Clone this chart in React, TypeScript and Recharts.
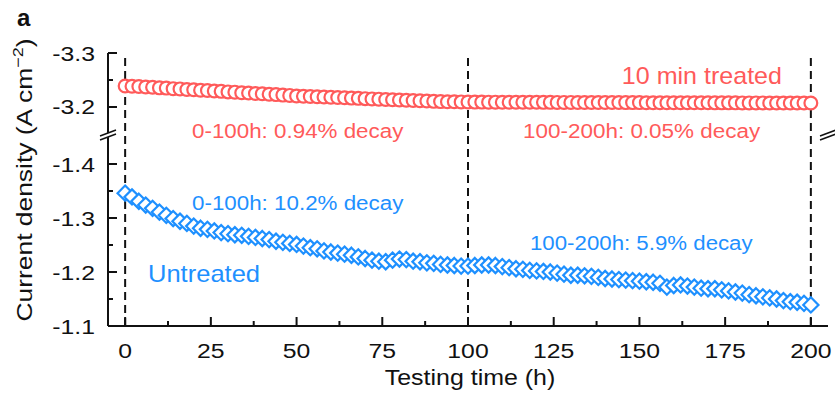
import React from "react";
import { ScatterChart, Scatter, XAxis, YAxis, ReferenceLine } from "recharts";

// testing time (h)
const TIME = [
  0, 2, 4, 6, 8, 10, 12, 14, 16, 18, 20, 22, 24, 26, 28, 30, 32, 34, 36, 38, 40, 42, 44, 46, 48, 50,
  52, 54, 56, 58, 60, 62, 64, 66, 68, 70, 72, 74, 76, 78, 80, 82, 84, 86, 88, 90, 92, 94, 96, 98, 100,
  102, 104, 106, 108, 110, 112, 114, 116, 118, 120, 122, 124, 126, 128, 130, 132, 134, 136, 138, 140,
  142, 144, 146, 148, 150, 152, 154, 156, 158, 160, 162, 164, 166, 168, 170, 172, 174, 176, 178, 180,
  182, 184, 186, 188, 190, 192, 194, 196, 198, 200,
];

// current density (A cm-2), 10 min treated
const TREATED = [
  -3.239, -3.2385, -3.238, -3.237, -3.2365, -3.2355, -3.235, -3.234, -3.2335, -3.2325, -3.232, -3.231,
  -3.2305, -3.2295, -3.229, -3.228, -3.2275, -3.2265, -3.226, -3.225, -3.2245, -3.2235, -3.223, -3.222,
  -3.2215, -3.2205, -3.22, -3.2195, -3.219, -3.2185, -3.218, -3.2175, -3.217, -3.2165, -3.216, -3.2155,
  -3.215, -3.2145, -3.214, -3.2135, -3.213, -3.2125, -3.212, -3.2115, -3.211, -3.2105, -3.21, -3.2098,
  -3.2096, -3.2094, -3.2092, -3.2091, -3.2091, -3.209, -3.209, -3.2089, -3.2089, -3.2088, -3.2088,
  -3.2087, -3.2087, -3.2086, -3.2086, -3.2085, -3.2085, -3.2085, -3.2084, -3.2084, -3.2083, -3.2083,
  -3.2083, -3.2082, -3.2082, -3.2081, -3.2081, -3.2081, -3.208, -3.208, -3.208, -3.2079, -3.2079,
  -3.2079, -3.2078, -3.2078, -3.2078, -3.2078, -3.2077, -3.2077, -3.2077, -3.2077, -3.2076, -3.2076,
  -3.2076, -3.2076, -3.2075, -3.2075, -3.2075, -3.2075, -3.2075, -3.2074, -3.2074,
];

// current density (A cm-2), untreated
const UNTREATED = [
  -1.346, -1.339, -1.331, -1.324, -1.318, -1.311, -1.305, -1.299, -1.294, -1.29, -1.285, -1.281, -1.279,
  -1.276, -1.273, -1.271, -1.269, -1.268, -1.266, -1.264, -1.262, -1.26, -1.257, -1.255, -1.253, -1.251,
  -1.248, -1.245, -1.243, -1.239, -1.237, -1.235, -1.233, -1.231, -1.228, -1.225, -1.222, -1.22, -1.219,
  -1.222, -1.224, -1.223, -1.22, -1.219, -1.217, -1.216, -1.214, -1.213, -1.212, -1.211, -1.211, -1.212,
  -1.213, -1.213, -1.212, -1.21, -1.208, -1.206, -1.205, -1.203, -1.202, -1.201, -1.2, -1.198, -1.196,
  -1.194, -1.194, -1.193, -1.192, -1.19, -1.188, -1.187, -1.186, -1.185, -1.184, -1.183, -1.182, -1.181,
  -1.179, -1.172, -1.175, -1.176, -1.174, -1.172, -1.17, -1.169, -1.169, -1.167, -1.165, -1.163, -1.161,
  -1.158, -1.156, -1.154, -1.152, -1.15, -1.147, -1.145, -1.144, -1.142, -1.139,
];

const X_MAJOR = [0, 25, 50, 75, 100, 125, 150, 175, 200];
const X_MINOR = [12.5, 37.5, 62.5, 87.5, 112.5, 137.5, 162.5, 187.5];
const Y_LOWER_MAJOR = [-1.1, -1.2, -1.3, -1.4];
const Y_LOWER_MINOR = [-1.15, -1.25, -1.35];
const Y_UPPER_MAJOR = [-3.2, -3.3];
const Y_UPPER_MINOR = [-3.25];
const DIVIDERS = [0, 100, 200];

const RED = "#FF5A5A";
const BLUE = "#1E90FF";
const INK = "#111";
const FONT = "'Liberation Sans', Arial, Helvetica, sans-serif";

// broken axis: both segments share one scale, upper segment shifted down
const LOWER_ZERO = -1.1;
const UPPER_ZERO = -2.7944;
const lowerPos = (v: number) => LOWER_ZERO - v;
const upperPos = (v: number) => UPPER_ZERO - v;
const Y_TOP = upperPos(-3.3);
const BREAK_POS = 0.3537;

const yTicks = [
  ...Y_LOWER_MAJOR.map((v) => ({ pos: lowerPos(v), label: v.toFixed(1) })),
  ...Y_LOWER_MINOR.map((v) => ({ pos: lowerPos(v), label: "" })),
  ...Y_UPPER_MAJOR.map((v) => ({ pos: upperPos(v), label: v.toFixed(1) })),
  ...Y_UPPER_MINOR.map((v) => ({ pos: upperPos(v), label: "" })),
];

const treatedData = TIME.map((t, i) => ({ t, pos: upperPos(TREATED[i]) }));
const untreatedData = TIME.map((t, i) => ({ t, pos: lowerPos(UNTREATED[i]) }));

function Txt({ x, y, children, size = 22, sx = 1.1, anchor = "start", fill = INK, weight = "normal", rotate = 0 }: any) {
  return (
    <text
      transform={`translate(${x},${y}) rotate(${rotate}) scale(${sx},1)`}
      textAnchor={anchor}
      fontSize={size}
      fontFamily={FONT}
      fill={fill}
      fontWeight={weight}
    >
      {children}
    </text>
  );
}

function XTick({ x, y, payload }: any) {
  const major = X_MAJOR.includes(payload.value);
  return (
    <g>
      <line x1={x} x2={x} y1={y} y2={y - (major ? 9 : 5)} stroke={INK} strokeWidth={2} />
      {major && (
        <Txt x={x} y={y + 32} size={21} sx={1.18} anchor="middle">
          {payload.value}
        </Txt>
      )}
    </g>
  );
}

function YTick({ x, y, payload }: any) {
  const t = yTicks.find((k) => Math.abs(k.pos - payload.value) < 1e-6);
  const major = !!(t && t.label);
  return (
    <g>
      <line x1={x} x2={x + (major ? 9 : 5)} y1={y} y2={y} stroke={INK} strokeWidth={2} />
      {major && (
        <Txt x={x - 13} y={y + 7.5} size={21} sx={1.18} anchor="end">
          {t!.label}
        </Txt>
      )}
    </g>
  );
}

const Ring = (p: any) => <circle cx={p.cx} cy={p.cy} r={6.4} fill="#fff" stroke={RED} strokeWidth={2.2} />;

const Diamond = (p: any) => {
  const s = 7.6;
  return (
    <polygon
      points={`${p.cx},${p.cy - s} ${p.cx + s},${p.cy} ${p.cx},${p.cy + s} ${p.cx - s},${p.cy}`}
      fill="#fff"
      stroke={BLUE}
      strokeWidth={2.2}
    />
  );
};

// "//" mark where the axis is broken
const BreakMark = (p: any) => {
  const { cx, cy } = p;
  return (
    <g>
      <polygon points={`${cx - 5},${cy - 0.5} ${cx + 5},${cy - 4} ${cx + 5},${cy + 0.5} ${cx - 5},${cy + 4}`} fill="#fff" />
      <line x1={cx - 8} y1={cy + 1} x2={cx + 8} y2={cy - 5} stroke={INK} strokeWidth={1.6} />
      <line x1={cx - 8} y1={cy + 5} x2={cx + 8} y2={cy - 1} stroke={INK} strokeWidth={1.6} />
    </g>
  );
};

export default function App() {
  return (
    <div style={{ position: "absolute", left: 0, top: 0, width: 835, height: 393, background: "#fff" }}>
      <ScatterChart width={835} height={393} margin={{ top: 53, right: 7, bottom: 7, left: 8 }}>
        <XAxis
          xAxisId="b"
          dataKey="t"
          type="number"
          domain={[-5, 205]}
          ticks={[...X_MAJOR, ...X_MINOR]}
          interval={0}
          tickSize={0}
          tickMargin={0}
          height={60}
          tick={<XTick />}
          tickLine={false}
          axisLine={{ stroke: INK, strokeWidth: 2 }}
          allowDataOverflow
        />
        <XAxis
          xAxisId="top"
          orientation="top"
          type="number"
          domain={[-5, 205]}
          height={0}
          tick={false}
          tickLine={false}
          axisLine={{ stroke: INK, strokeWidth: 2 }}
        />
        <YAxis
          yAxisId="l"
          dataKey="pos"
          type="number"
          domain={[0, Y_TOP]}
          ticks={yTicks.map((k) => k.pos)}
          interval={0}
          tickSize={0}
          tickMargin={0}
          width={100}
          tick={<YTick />}
          tickLine={false}
          axisLine={{ stroke: INK, strokeWidth: 2 }}
          allowDataOverflow
        />
        <YAxis
          yAxisId="r"
          orientation="right"
          type="number"
          domain={[0, Y_TOP]}
          width={0}
          tick={false}
          tickLine={false}
          axisLine={{ stroke: INK, strokeWidth: 2 }}
        />
        {DIVIDERS.map((d) => (
          <ReferenceLine key={d} xAxisId="b" yAxisId="l" x={d} stroke={INK} strokeWidth={2} strokeDasharray="8 5" />
        ))}
        <Scatter xAxisId="b" yAxisId="l" data={untreatedData} dataKey="pos" shape={Diamond} isAnimationActive={false} />
        <Scatter xAxisId="b" yAxisId="l" data={treatedData} dataKey="pos" shape={Ring} isAnimationActive={false} />
      </ScatterChart>
      <svg width={835} height={393} style={{ position: "absolute", left: 0, top: 0, pointerEvents: "none" }}>
        <BreakMark cx={108} cy={326 - BREAK_POS * 540} />
        <BreakMark cx={828} cy={326 - BREAK_POS * 540} />
        <Txt x={17} y={26} size={24} sx={1} weight="bold">a</Txt>
        <Txt x={32} y={180} size={22} sx={1.2} anchor="middle" rotate={-90}>
          Current density (A cm
          <tspan fontSize={15} dy={-9}>−2</tspan>
          <tspan dy={9}>)</tspan>
        </Txt>
        <Txt x={470} y={385} size={22.5} sx={1.11} anchor="middle">Testing time (h)</Txt>
        <Txt x={782} y={84} size={23} sx={1.09} anchor="end" fill={RED}>10 min treated</Txt>
        <Txt x={192} y={138} size={21} sx={1.065} fill={RED}>0-100h: 0.94% decay</Txt>
        <Txt x={523} y={138} size={21} sx={1.07} fill={RED}>100-200h: 0.05% decay</Txt>
        <Txt x={192} y={210} size={21} sx={1.065} fill={BLUE}>0-100h: 10.2% decay</Txt>
        <Txt x={530} y={250} size={21} sx={1.06} fill={BLUE}>100-200h: 5.9% decay</Txt>
        <Txt x={148} y={282} size={23} sx={1.11} fill={BLUE}>Untreated</Txt>
      </svg>
    </div>
  );
}
